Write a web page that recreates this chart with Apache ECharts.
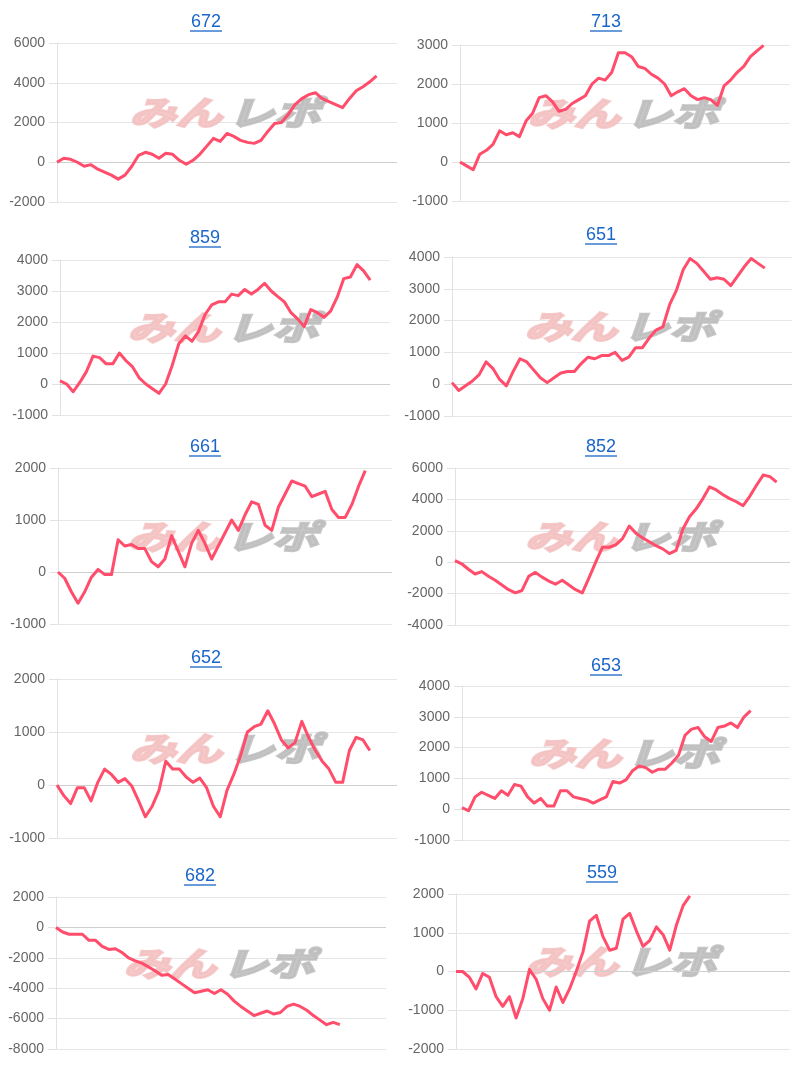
<!DOCTYPE html>
<html>
<head>
<meta charset="utf-8">
<script src="https://cdn.jsdelivr.net/npm/echarts@6/dist/echarts.min.js"></script>
<style>
html,body{margin:0;padding:0;background:#fff;}
#chart{width:800px;height:1066px;}
</style>
</head>
<body>
<div id="chart"></div>
<script>
// ---- data ----
const titles = ['672','713','859','651','661','852','652','653','682','559'];
const xCount = 51; // number of games on each x axis
const yMin  = [-2000,-1000,-1000,-1000,-1000,-4000,-1000,-1000,-8000,-2000];
const yMax  = [ 6000, 3000, 4000, 4000, 2000, 6000, 2000, 4000, 2000, 2000];
const yStep = [ 2000, 1000, 1000, 1000, 1000, 2000, 1000, 1000, 2000, 1000];

const s672 = [0,200,150,0,-200,-120,-350,-500,-650,-850,-650,-200,350,500,400,200,450,400,100,-100,100,400,800,1200,1050,1450,1300,1100,1000,950,1100,1550,1950,2000,2400,2900,3200,3400,3500,3200,3050,2900,2750,3200,3600,3800,4050,4350];
const s713 = [0,-100,-200,200,300,450,800,700,750,650,1050,1250,1650,1700,1550,1300,1350,1500,1600,1700,2000,2150,2100,2300,2800,2800,2700,2450,2400,2250,2150,2000,1700,1800,1880,1700,1600,1650,1600,1450,1950,2100,2300,2450,2700,2850,2990];
const s859 = [100,0,-250,50,400,900,850,650,650,1000,750,550,200,0,-150,-300,0,600,1300,1550,1380,1700,2250,2550,2650,2650,2900,2850,3050,2900,3050,3250,3000,2820,2650,2300,2100,1850,2400,2300,2150,2350,2800,3400,3450,3850,3650,3350];
const s651 = [50,-200,-50,100,300,700,500,150,-50,400,800,700,450,200,50,200,350,400,400,650,850,800,900,900,1000,750,850,1150,1150,1450,1700,1800,2500,2950,3600,3950,3800,3550,3300,3350,3300,3100,3400,3700,3950,3800,3650];
const s661 = [0,-120,-380,-600,-380,-100,50,-50,-50,620,500,530,450,450,200,100,250,700,400,100,550,800,550,250,500,750,1000,800,1100,1350,1300,900,800,1250,1500,1750,1700,1650,1450,1500,1550,1200,1050,1050,1300,1650,1950];
const s852 = [100,-100,-450,-750,-600,-900,-1150,-1450,-1750,-1950,-1800,-900,-650,-950,-1200,-1400,-1150,-1450,-1750,-1950,-1000,0,950,950,1100,1500,2300,1850,1550,1300,1050,850,550,750,2100,2900,3400,4050,4800,4600,4300,4050,3850,3600,4200,4900,5550,5450,5100];
const s652 = [0,-200,-350,-50,-50,-300,50,300,200,50,120,-20,-300,-600,-400,-100,450,300,300,150,50,130,-50,-400,-600,-100,200,550,1000,1100,1150,1400,1150,850,700,800,1200,900,650,450,300,50,50,650,900,850,650];
const s653 = [50,-50,400,550,450,350,600,450,800,750,400,200,350,100,100,600,600,400,350,300,200,300,400,900,850,950,1250,1400,1350,1200,1300,1300,1500,1750,2400,2600,2650,2350,2200,2650,2700,2800,2650,3000,3200];
const s682 = [0,-300,-450,-450,-450,-850,-850,-1250,-1450,-1400,-1650,-2000,-2200,-2350,-2600,-2850,-3150,-3100,-3400,-3700,-4000,-4300,-4200,-4100,-4350,-4100,-4400,-4850,-5200,-5500,-5800,-5650,-5500,-5700,-5600,-5200,-5050,-5200,-5450,-5800,-6100,-6400,-6250,-6400];
const s559 = [0,0,-150,-450,-50,-150,-650,-900,-650,-1200,-700,50,-200,-700,-1000,-400,-800,-450,0,500,1300,1450,900,550,600,1350,1500,1050,650,800,1150,950,550,1200,1700,1950];
const seriesData = [s672,s713,s859,s651,s661,s852,s652,s653,s682,s559];

// ---- layout ----
const layout = [
 {left:57,  top:43,  width:340, height:159, tx:206, ty:22},
 {left:460, top:45,  width:330, height:156, tx:606, ty:22},
 {left:60,  top:260, width:330, height:155, tx:205, ty:238},
 {left:452, top:257, width:340, height:159, tx:601, ty:235},
 {left:58,  top:468, width:334, height:156, tx:205, ty:447},
 {left:455, top:468, width:335, height:157, tx:601, ty:447},
 {left:57,  top:679, width:340, height:159, tx:206, ty:658},
 {left:462, top:686, width:328, height:154, tx:606, ty:666},
 {left:56,  top:897, width:330, height:152, tx:200, ty:876},
 {left:456, top:894, width:334, height:155, tx:602, ty:873}
];

const cats = Array.from({length:xCount}, (_, i) => String(i + 1));
const LINE = '#ff4d6b';
const BLUE = '#1a66c8';
const FONT = "Helvetica, Arial, 'Liberation Sans', sans-serif";
const WM_FONT = "italic bold 33px 'Noto Sans CJK JP', sans-serif";

const grids = [], xAxes = [], yAxes = [], series = [], graphics = [];
layout.forEach((L, i) => {
  grids.push({left:L.left, top:L.top, width:L.width, height:L.height, containLabel:false});
  xAxes.push({
    type:'category', gridIndex:i, data:cats, boundaryGap:false,
    axisLine:{show:false}, axisTick:{show:false}, axisLabel:{show:false}, splitLine:{show:false}
  });
  yAxes.push({
    type:'value', gridIndex:i, min:yMin[i], max:yMax[i], interval:yStep[i],
    axisLine:{show:true, lineStyle:{color:'#e2e2e2', width:1}},
    axisTick:{show:true, length:8, lineStyle:{color:'#e2e2e2'}},
    axisLabel:{color:'#666', fontSize:14, fontFamily:FONT, margin:12, formatter:(v) => String(v)},
    splitLine:{show:true, lineStyle:{color:'#e6e6e6', width:1}}
  });
  series.push({
    type:'line', xAxisIndex:i, yAxisIndex:i, data:seriesData[i],
    showSymbol:false, smooth:false, z:5,
    lineStyle:{color:LINE, width:3, join:'round'},
    markLine:{silent:true, symbol:'none', label:{show:false}, animation:false,
      lineStyle:{color:'#cfcfcf', width:1, type:'solid'}, data:[{yAxis:0}]}
  });
  // title
  graphics.push({type:'text', x:L.tx, y:L.ty, z:10,
    style:{text:titles[i], fill:BLUE, font:"18px " + FONT, textAlign:'center', textVerticalAlign:'middle'}});
  graphics.push({type:'line', z:10,
    shape:{x1:L.tx - 16, y1:L.ty + 9, x2:L.tx + 16, y2:L.ty + 9},
    style:{stroke:BLUE, lineWidth:1.3}});
  // watermark
  const cx = L.left + L.width / 2 - 2, cy = L.top + L.height / 2 - 10;
  graphics.push({type:'text', x:cx - 3, y:cy, scaleX:1.4, z:1,
    style:{text:'みん', fill:'#f3c0c0', stroke:'#f3c0c0', lineWidth:2.5, font:WM_FONT,
      textAlign:'right', textVerticalAlign:'middle', opacity:0.85}});
  graphics.push({type:'text', x:cx + 3, y:cy, scaleX:1.4, z:1,
    style:{text:'レポ', fill:'#bcbcbc', stroke:'#bcbcbc', lineWidth:2.5, font:WM_FONT,
      textAlign:'left', textVerticalAlign:'middle', opacity:0.85}});
});

const chart = echarts.init(document.getElementById('chart'), null, {renderer:'canvas'});
chart.setOption({
  animation:false,
  backgroundColor:'#fff',
  grid:grids, xAxis:xAxes, yAxis:yAxes, series:series, graphic:graphics
});
</script>
</body>
</html>
